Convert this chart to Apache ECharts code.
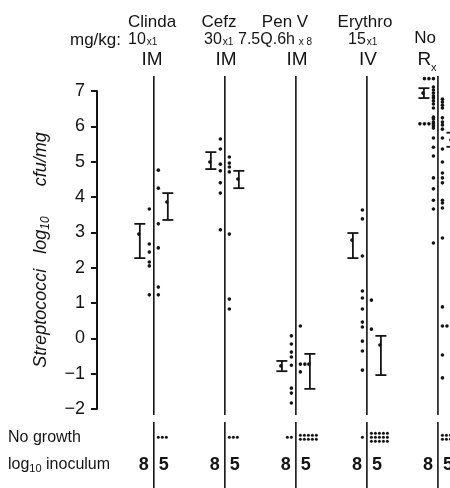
<!DOCTYPE html>
<html><head><meta charset="utf-8">
<script src="https://cdn.jsdelivr.net/npm/echarts@6/dist/echarts.min.js"></script>
<style>html,body{margin:0;padding:0;background:#fff}#c{width:450px;height:488px}</style>
</head><body><div id="c"></div>
<script>
// ---------- data ----------
const drugs = ['Clinda', 'Cefz', 'Pen V', 'Erythro', 'No Rx'];
const yTicks = { min: -2, max: 7, interval: 1 };
// individual log10 cfu/mg values, inoculum 10^8 (left of each line) and 10^5 (right)
const clinda8 = [3.66, 2.67, 2.44, 2.16, 2.05, 1.23];
const clinda5 = [4.76, 4.25, 3.24, 2.56, 1.45, 1.23];
const cefz8 = [5.64, 5.36, 4.93, 4.74, 4.40, 4.11, 3.07];
const cefz5 = [5.13, 4.96, 4.85, 4.71, 2.95, 1.11, 0.83];
const penV8 = [0.07, -0.16, -0.39, -0.53, -0.76, -1.41, -1.55, -1.83];
const penV5 = [0.35, -0.73, -0.73, -0.95];
const erythro8 = [3.63, 3.38, 2.33, 1.34, 1.14, 0.83, 0.46, 0.32, -0.08, -0.36, -0.90];
const erythro5 = [1.08, 0.26];
const noRx8 = [7.35, 7.35, 7.35, 7.11, 7.03, 6.94, 6.86, 6.80, 6.72, 6.63, 6.52, 6.26, 6.21, 6.12,
  6.07, 6.07, 6.07, 6.07, 6.02, 5.95, 5.67, 5.41, 5.16, 4.54, 4.23, 3.91, 3.66, 2.70];
const noRx5 = [6.77, 6.69, 6.60, 6.52, 6.24, 6.12, 6.04, 5.92, 5.67, 5.36, 4.99, 4.68, 4.54, 4.40,
  3.91, 3.83, 3.69, 2.84, 0.89, 0.35, 0.35, -0.47, -1.12];
// mean +/- SE per drug
const mean8 = [2.95, 4.99, -0.78, 2.78, 6.94];
const low8  = [2.27, 4.79, -0.93, 2.27, 6.80];
const high8 = [3.24, 5.27, -0.64, 2.98, 7.08];
const mean5 = [3.86, 4.51, -0.73, -0.19, 5.62];
const low5  = [3.35, 4.25, -1.43, -1.04, 5.42];
const high5 = [4.11, 4.74, -0.44, 0.07, 5.82];
// number of animals with no growth
const noGrowth8 = [0, 0, 2, 1, 0];
const noGrowth5 = [3, 3, 10, 15, 9];
const inoculumLabels = ['8', '5'];

// ---------- layout / style ----------
const INK = '#141414';
const FONT = 'Liberation Sans';
const DOT_R = 1.8, DOT_GAP = 4.5, DOT_STEP = 4.5;
const BAR_GAP = 14, CAP = 5.5;
const NG_ROW = 0.77, INOC_ROW = 0.35;

const groups8 = [clinda8, cefz8, penV8, erythro8, noRx8];
const groups5 = [clinda5, cefz5, penV5, erythro5, noRx5];

function dotData() {
  const out = [];
  function add(arr, col, side) {
    const seen = [];
    arr.forEach(v => {
      const rank = seen.filter(s => Math.abs(s - v) < 0.015).length;
      seen.push(v);
      out.push([col, v, side, rank]);
    });
  }
  groups8.forEach((a, i) => add(a, i, -1));
  groups5.forEach((a, i) => add(a, i, 1));
  return out;
}
function barData() {
  const out = [];
  drugs.forEach((d, i) => {
    out.push([i, mean8[i], low8[i], high8[i], -1]);
    out.push([i, mean5[i], low5[i], high5[i], 1]);
  });
  return out;
}
function noGrowthData() {
  const out = [];
  drugs.forEach((d, i) => {
    for (let k = 0; k < noGrowth8[i]; k++) out.push([i, NG_ROW, -1, k, noGrowth8[i]]);
    for (let k = 0; k < noGrowth5[i]; k++) out.push([i, NG_ROW, 1, k, noGrowth5[i]]);
  });
  return out;
}

const chart = echarts.init(document.getElementById('c'), null, { renderer: 'canvas' });
const option = {
  animation: false,
  backgroundColor: '#fff',
  grid: [
    { left: 97, right: 0, top: 91, height: 318 },
    { left: 97, right: 0, top: 422, height: 66 }
  ],
  xAxis: [
    { gridIndex: 0, type: 'value', min: -0.8, max: 4.17, show: false },
    { gridIndex: 1, type: 'value', min: -0.8, max: 4.17, show: false }
  ],
  yAxis: [
    {
      gridIndex: 0, type: 'value', min: yTicks.min, max: yTicks.max, interval: yTicks.interval,
      axisLine: { show: true, onZero: false, lineStyle: { color: INK, width: 2 } },
      axisTick: { show: true, length: 6, lineStyle: { color: INK, width: 2 } },
      splitLine: { show: false },
      axisLabel: {
        color: INK, fontSize: 18, fontFamily: FONT, margin: 12,
        formatter: v => (v < 0 ? '\u2212' + Math.abs(v) : String(v))
      },
      name: 'Streptococci   log{s|10}      cfu/mg',
      nameLocation: 'middle', nameGap: 45, nameRotate: 90,
      nameTextStyle: {
        color: INK, fontSize: 18, fontStyle: 'italic', fontFamily: FONT,
        rich: { s: { fontSize: 12, fontStyle: 'italic', fontFamily: FONT, color: INK, padding: [10, 0, 0, 0] } }
      }
    },
    { gridIndex: 1, type: 'value', min: 0, max: 1, show: false }
  ],
  series: [
    { // vertical column lines (upper panel)
      type: 'custom', xAxisIndex: 0, yAxisIndex: 0, clip: false, silent: true,
      data: drugs.map((d, i) => [i, yTicks.max]),
      renderItem(params, api) {
        const top = api.coord([api.value(0), yTicks.max]);
        const bot = api.coord([api.value(0), yTicks.min]);
        return { type: 'line', shape: { x1: top[0], y1: top[1] - 15, x2: bot[0], y2: bot[1] + 6 },
          style: { stroke: INK, lineWidth: 1.6 } };
      }
    },
    { // individual animals
      type: 'custom', xAxisIndex: 0, yAxisIndex: 0, clip: false, silent: true,
      data: dotData(),
      renderItem(params, api) {
        const c = api.coord([api.value(0), api.value(1)]);
        const side = api.value(2), rank = api.value(3);
        return { type: 'circle', shape: { cx: c[0] + side * (DOT_GAP + rank * DOT_STEP), cy: c[1], r: DOT_R },
          style: { fill: INK } };
      }
    },
    { // mean +/- SE bars
      type: 'custom', xAxisIndex: 0, yAxisIndex: 0, clip: false, silent: true,
      data: barData(),
      renderItem(params, api) {
        const col = api.value(0), side = api.value(4);
        const m = api.coord([col, api.value(1)]);
        const lo = api.coord([col, api.value(2)]);
        const hi = api.coord([col, api.value(3)]);
        const x = m[0] + side * BAR_GAP;
        const st = { stroke: INK, lineWidth: 1.8 };
        return { type: 'group', children: [
          { type: 'line', shape: { x1: x, y1: hi[1], x2: x, y2: lo[1] }, style: st },
          { type: 'line', shape: { x1: x - CAP, y1: hi[1], x2: x + CAP, y2: hi[1] }, style: st },
          { type: 'line', shape: { x1: x - CAP, y1: lo[1], x2: x + CAP, y2: lo[1] }, style: st },
          { type: 'circle', shape: { cx: x - 1, cy: m[1], r: 1.8 }, style: { fill: INK } }
        ] };
      }
    },
    { // vertical column lines (lower panel)
      type: 'custom', xAxisIndex: 1, yAxisIndex: 1, clip: false, silent: true,
      data: drugs.map((d, i) => [i, 1]),
      renderItem(params, api) {
        const top = api.coord([api.value(0), 1]);
        const bot = api.coord([api.value(0), 0]);
        return { type: 'line', shape: { x1: top[0], y1: top[1], x2: bot[0], y2: bot[1] },
          style: { stroke: INK, lineWidth: 1.6 } };
      }
    },
    { // no growth
      type: 'custom', xAxisIndex: 1, yAxisIndex: 1, clip: false, silent: true,
      data: noGrowthData(),
      renderItem(params, api) {
        const c = api.coord([api.value(0), api.value(1)]);
        const side = api.value(2), k = api.value(3), n = api.value(4);
        const rows = Math.ceil(n / 5), r = Math.floor(k / 5), j = k % 5;
        return { type: 'circle',
          shape: { cx: c[0] + side * (DOT_GAP + j * 4), cy: c[1] + (r - (rows - 1) / 2) * 4, r: 1.5 },
          style: { fill: INK } };
      }
    },
    { // inoculum labels
      type: 'custom', xAxisIndex: 1, yAxisIndex: 1, clip: false, silent: true,
      data: drugs.map((d, i) => [i, INOC_ROW]),
      renderItem(params, api) {
        const c = api.coord([api.value(0), api.value(1)]);
        const f = 'bold 18px ' + FONT;
        return { type: 'group', children: [
          { type: 'text', x: c[0] - 5, y: c[1], style: { text: inoculumLabels[0], font: f, fill: INK, align: 'right', verticalAlign: 'middle' } },
          { type: 'text', x: c[0] + 5, y: c[1], style: { text: inoculumLabels[1], font: f, fill: INK, align: 'left', verticalAlign: 'middle' } }
        ] };
      }
    }
  ],
  graphic: []
};

function txt(x, y, text, size, align, rich, weight) {
  return { type: 'text', x, y, silent: true,
    style: { text, fill: INK, font: (weight || 'normal') + ' ' + size + 'px ' + FONT,
      align: align || 'center', verticalAlign: 'middle', rich: rich } };
}
const dose = { b: { fontSize: 16, fontFamily: FONT, fill: INK, verticalAlign: 'bottom' },
               s: { fontSize: 10, fontFamily: FONT, fill: INK, verticalAlign: 'bottom', padding: [0, 0, 1, 1] } };
option.graphic = [
  txt(152, 22, drugs[0], 17), txt(219, 22, drugs[1], 17), txt(285, 22, drugs[2], 17), txt(365, 22, drugs[3], 17),
  txt(70, 40, 'mg/kg:', 17, 'left'),
  txt(128, 40, '{b|10}{s|x1}', 16, 'left', dose),
  txt(204, 40, '{b|30}{s|x1}', 16, 'left', dose),
  txt(238, 40, '{b|7.5Q.6h}{s| x 8}', 16, 'left', dose),
  txt(348, 40, '{b|15}{s|x1}', 16, 'left', dose),
  txt(425, 38, 'No', 17),
  txt(152, 60, 'IM', 19), txt(226, 60, 'IM', 19), txt(297, 60, 'IM', 19), txt(368, 60, 'IV', 19),
  txt(427, 60, '{b|R}{s|x}', 19, 'center',
    { b: { fontSize: 19, fontFamily: FONT, fill: INK, verticalAlign: 'bottom' },
      s: { fontSize: 11, fontFamily: FONT, fill: INK, verticalAlign: 'bottom', padding: [0, 0, -4, 0] } }),
  txt(8, 438, 'No growth', 16, 'left'),
  txt(8, 465, 'log{s|10} inoculum', 16, 'left',
    { s: { fontSize: 11, fontFamily: FONT, fill: INK, padding: [8, 0, 0, 0] } })
];
chart.setOption(option);
</script>
</body></html>
